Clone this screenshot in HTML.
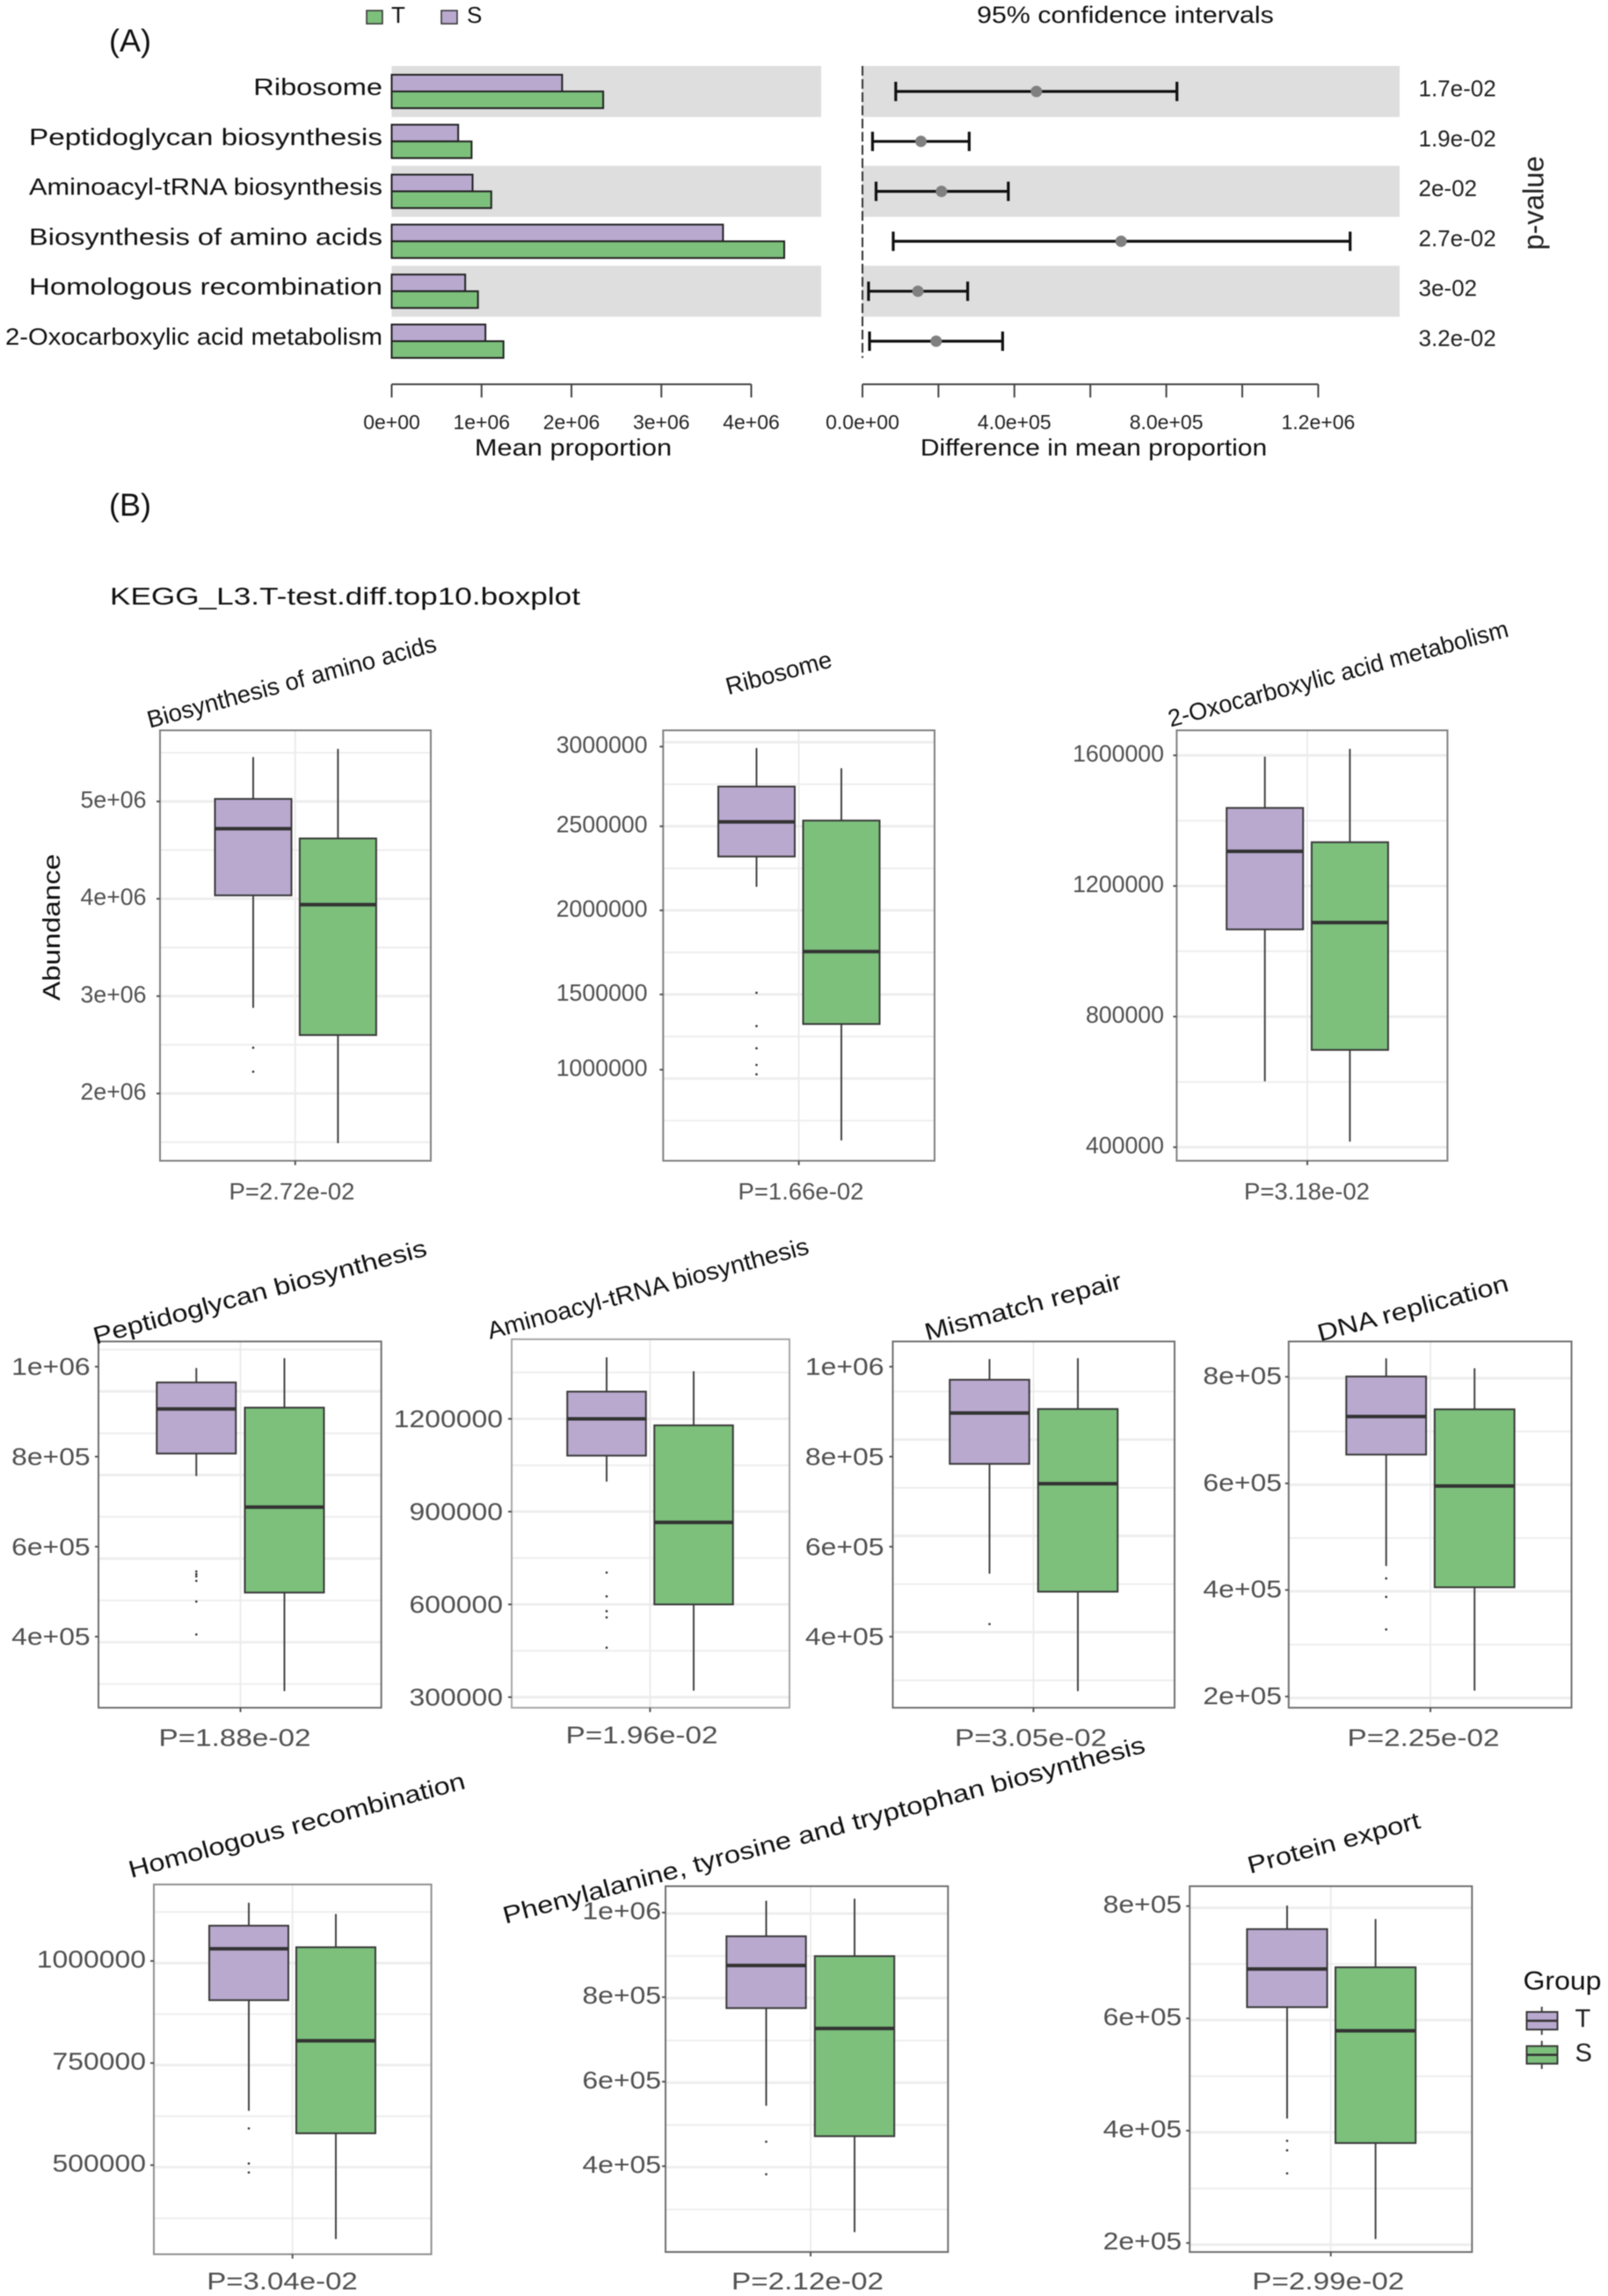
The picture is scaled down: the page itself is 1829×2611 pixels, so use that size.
<!DOCTYPE html>
<html lang="en">
<head>
<meta charset="utf-8">
<title>KEGG L3 T-test differences</title>
<style>
html,body{margin:0;padding:0;background:#fff;}
svg{display:block;font-family:"Liberation Sans",Arial,sans-serif;filter:blur(0.5px);}
</style>
</head>
<body>
<svg id="figure" xmlns="http://www.w3.org/2000/svg" width="1829" height="2611" viewBox="0 0 1829 2611"></svg>
<script>
/* ---------- Panel A data ---------- */
const pathways = ["Ribosome","Peptidoglycan biosynthesis","Aminoacyl-tRNA biosynthesis","Biosynthesis of amino acids","Homologous recombination","2-Oxocarboxylic acid metabolism"];
const meanS = [1896000,740000,900000,3686000,818000,1043000];
const meanT = [2353000,889000,1108000,4367000,960000,1244000];
const ciLow = [87600,26500,35800,81000,16000,18600];
const ciMid = [458000,154000,208000,681000,146000,194000];
const ciHigh = [828000,281000,384000,1284000,277000,369000];
const pValueLabels = ["1.7e-02","1.9e-02","2e-02","2.7e-02","3e-02","3.2e-02"];
const meanTicks = [0,1000000,2000000,3000000,4000000];
const meanTickLabels = ["0e+00","1e+06","2e+06","3e+06","4e+06"];
const diffTicks = [0,200000,400000,600000,800000,1000000,1200000];
const diffTickLabels = ["0.0e+00","","4.0e+05","","8.0e+05","","1.2e+06"];

/* ---------- Panel B data ---------- */
const boxTitles = ["Biosynthesis of amino acids","Ribosome","2-Oxocarboxylic acid metabolism","Peptidoglycan biosynthesis","Aminoacyl-tRNA biosynthesis","Mismatch repair","DNA replication","Homologous recombination","Phenylalanine, tyrosine and tryptophan biosynthesis","Protein export"];
const boxPLabels = ["P=2.72e-02","P=1.66e-02","P=3.18e-02","P=1.88e-02","P=1.96e-02","P=3.05e-02","P=2.25e-02","P=3.04e-02","P=2.12e-02","P=2.99e-02"];
const yTickValues = [
 [5000000,4000000,3000000,2000000],
 [3000000,2500000,2000000,1500000,1000000],
 [1600000,1200000,800000,400000],
 [1000000,800000,600000,400000],
 [1200000,900000,600000,300000],
 [1000000,800000,600000,400000],
 [800000,600000,400000,200000],
 [1000000,750000,500000],
 [1000000,800000,600000,400000],
 [800000,600000,400000,200000]
];
const yTickLabels = [
 ["5e+06","4e+06","3e+06","2e+06"],
 ["3000000","2500000","2000000","1500000","1000000"],
 ["1600000","1200000","800000","400000"],
 ["1e+06","8e+05","6e+05","4e+05"],
 ["1200000","900000","600000","300000"],
 ["1e+06","8e+05","6e+05","4e+05"],
 ["8e+05","6e+05","4e+05","2e+05"],
 ["1000000","750000","500000"],
 ["1e+06","8e+05","6e+05","4e+05"],
 ["8e+05","6e+05","4e+05","2e+05"]
];
/* group T (purple) */
const tWhiskerHigh = [5456000,2965000,1596000,997000,1399000,1017000,834700,1142600,1028000,801000];
const tQ3 = [5026000,2736000,1439000,965000,1288000,971000,800600,1086400,944000,759000];
const tMedian = [4720000,2526000,1306000,906000,1200000,897000,725500,1030000,875000,688000];
const tQ1 = [4035000,2320000,1067000,807000,1081000,784000,654000,904000,774000,620000];
const tWhiskerLow = [2880000,2140000,602000,757000,997000,540000,445000,633000,543000,421600];
const tOutliers = [
 [2470000,2224000],
 [1510000,1312000,1180000,1081000,1025000],
 [],
 [545000,539000,534000,524000,478000,405000],
 [703000,626000,578000,558000,460000],
 [428000],
 [421700,387000,326000],
 [590000,504000,482000],
 [458000,381000],
 [382000,365000,324000]
];
/* group S (green) */
const sWhiskerHigh = [5540000,2845000,1620000,1019000,1354000,1019000,816000,1115000,1033000,777000];
const sQ3 = [4620000,2534000,1334000,909000,1179000,906000,739000,1033600,897000,691000];
const sMedian = [3940000,1755000,1088000,688000,865000,740000,595000,804500,726000,578000];
const sQ1 = [2600000,1324000,698000,498000,600000,500000,405000,578000,471000,378000];
const sWhiskerLow = [1490000,632000,417000,279000,321000,279000,211000,319000,244000,207000];

/* ---------- Layout (geometry only) ---------- */
const categoryLabelWidths = [146.7,402,402,402,402,429];
const panelLayouts = [
 {l:182,r:490,t:830.5,b:1320,v1:5000000,p1:911.4,v2:2000000,p2:1243.5,ct:288,cs:384.4,bw:87,vg:335.8,lab:15.5,dy:-2,gs:5500000,gd:500000,gm:false,fs:26.7,st:1,ps:1.03,px:332,py:1355,tx:331.7,ty:775,tf:27.5,ts:1,frame:"#808080"},
 {l:754.3,r:1063,t:830.5,b:1320,v1:3000000,p1:844,v2:1000000,p2:1226.5,ct:860.5,cs:957,bw:87,vg:908.6,lab:17.8,dy:-2,nudge:{0:5,4:-10},gs:3000000,gd:250000,gm:true,fs:26.7,st:1,ps:1.03,px:911,py:1355,tx:885.7,ty:765,tf:27.5,ts:1,frame:"#808080"},
 {l:1338.4,r:1646.4,t:830.5,b:1320,v1:1600000,p1:859,v2:400000,p2:1304.6,ct:1438.7,cs:1535.4,bw:87,vg:1487,lab:14.4,dy:-2,gs:1600000,gd:200000,gm:true,fs:26.7,st:1,ps:1.03,px:1486.5,py:1355,tx:1522,ty:766,tf:27.5,ts:0.99,frame:"#808080"},
 {l:112,r:433.7,t:1525.5,b:1942,v1:1000000,p1:1554.2,v2:400000,p2:1861.2,ct:223.3,cs:323.5,bw:90,vg:273.5,lab:9.3,dy:0,gs:1038000,gd:92900,gm:false,fs:27.5,st:1.16,ps:1.21,px:267,py:1976,tx:295.5,ty:1469,tf:27.5,ts:1.18,frame:"#707070"},
 {l:582,r:898,t:1523,b:1942,v1:1200000,p1:1613.5,v2:300000,p2:1930,ct:690,cs:789,bw:89.5,vg:739.4,lab:10,dy:0,gs:1350000,gd:150000,gm:false,fs:27.5,st:1.16,ps:1.21,px:730,py:1973,tx:737,ty:1465,tf:27.5,ts:1.05,frame:"#a8a8a8"},
 {l:1015.5,r:1336,t:1525.5,b:1942,v1:1000000,p1:1554.2,v2:400000,p2:1861.2,ct:1125.5,cs:1226,bw:90.5,vg:1175.5,lab:10,dy:0,gs:945000,gd:107000,gm:false,fs:27.5,st:1.16,ps:1.21,px:1172.5,py:1976,tx:1163.7,ty:1485.5,tf:27.5,ts:1.18,frame:"#707070"},
 {l:1465.8,r:1787.5,t:1525.5,b:1942,v1:800000,p1:1565.7,v2:200000,p2:1929.3,ct:1576.7,cs:1677.2,bw:90.8,vg:1627,lab:7.8,dy:-1,gs:797500,gd:100000,gm:true,fs:27.5,st:1.16,ps:1.21,px:1619,py:1976,tx:1607,ty:1487.5,tf:27.5,ts:1.18,frame:"#707070"},
 {l:175,r:490.6,t:2143,b:2563.5,v1:1000000,p1:2230,v2:500000,p2:2462.2,ct:283,cs:382,bw:90,vg:332.7,lab:9,dy:-2,gs:1120000,gd:125000,gm:false,fs:27.5,st:1.16,ps:1.2,px:321,py:2594,tx:337.5,ty:2075.5,tf:27.5,ts:1.18,frame:"#909090"},
 {l:757,r:1078.3,t:2145,b:2561,v1:1000000,p1:2175,v2:400000,p2:2463.4,ct:871.5,cs:972,bw:90.4,vg:922,lab:5,dy:-2,gs:997600,gd:100000,gm:true,fs:27.5,st:1.16,ps:1.21,px:918.5,py:2594,tx:937,ty:2081,tf:27.5,ts:1.19,frame:"#707070"},
 {l:1353.2,r:1674.3,t:2145,b:2561,v1:800000,p1:2167.6,v2:200000,p2:2550.7,ct:1464,cs:1564.6,bw:91.2,vg:1513.7,lab:9,dy:-2,gs:797000,gd:100000,gm:true,fs:27.5,st:1.16,ps:1.21,px:1510.8,py:2594,tx:1517,ty:2095.5,tf:27.5,ts:1.18,frame:"#707070"}
];

const PURPLE = "#b9a9cf", GREEN = "#7cc07c", BAND = "#dedede", TICKTXT = "#505050";
const svg = document.getElementById("figure");
const NS = "http://www.w3.org/2000/svg";

function mk(tag, attrs, name, parent) {
  const el = document.createElementNS(NS, tag);
  for (const k in attrs) el.setAttribute(k, attrs[k]);
  
  
  (parent || svg).appendChild(el);
  return el;
}
function line(x1, y1, x2, y2, stroke, w, name, parent, extra) {
  return mk("line", Object.assign({x1:x1, y1:y1, x2:x2, y2:y2, stroke:stroke, "stroke-width":w}, extra || {}), name, parent);
}
function rect(x, y, w, h, fill, stroke, sw, name, parent) {
  return mk("rect", {x:x, y:y, width:w, height:h, fill:fill, stroke:stroke, "stroke-width":sw}, name, parent);
}
function txt(x, y, s, size, o, name, parent) {
  o = o || {};
  const a = {x:x, y:y, "font-size":size, fill:o.fill || "#111", "text-anchor":o.anchor || "start", "dominant-baseline":"central"};
  if (o.rotate !== undefined) a.transform = "rotate(" + o.rotate + " " + x + " " + y + ")";
  const el = mk("text", a, name, parent);
  el.textContent = s;
  if (o.stretch && o.stretch !== 1) {
    const len = el.getComputedTextLength();
    el.setAttribute("textLength", len * o.stretch);
    el.setAttribute("lengthAdjust", "spacingAndGlyphs");
  }
  if (o.length) {
    el.setAttribute("textLength", o.length);
    el.setAttribute("lengthAdjust", "spacingAndGlyphs");
  }
  return el;
}

/* ---------- Panel A ---------- */
const xMean = v => 445.5 + v * (409 / 4000000);
const xDiff = v => 981 + v * (518.4 / 1200000);
const rowY = i => 104 + i * 56.8;
const slug = s => s.toLowerCase().replace(/[^a-z0-9]+/g, "-");

const panelA = mk("g", {}, "panel-a");
txt(124, 46, "(A)", 36, {fill:"#111"}, "panel-a-label", panelA);

rect(417, 12, 18, 15, GREEN, "#333", 1.5, "legend-swatch-t", panelA);
txt(445, 17, "T", 26, {}, "legend-label-t", panelA);
rect(502, 12, 18, 15, PURPLE, "#333", 1.5, "legend-swatch-s", panelA);
txt(531, 17, "S", 26, {}, "legend-label-s", panelA);
txt(1280, 17, "95% confidence intervals", 27, {anchor:"middle", stretch:1.125}, "ci-title", panelA);

pathways.forEach((name, i) => {
  const yc = rowY(i), id = slug(name);
  if (i % 2 === 0) {
    rect(445.5, yc - 29, 488.5, 58, BAND, "none", 0, "row-band-left-" + id, panelA);
    rect(980.5, yc - 29, 611.5, 58, BAND, "none", 0, "row-band-right-" + id, panelA);
  }
});
line(981, 75, 981, 407, "#333", 2, "zero-reference-line", panelA, {"stroke-dasharray":"11,4"});

pathways.forEach((name, i) => {
  const yc = rowY(i), id = slug(name);
  txt(435, yc - 5, name, 27, {anchor:"end", length:categoryLabelWidths[i]}, "category-label-" + id, panelA);
  rect(xMean(0), yc - 19, xMean(meanS[i]) - xMean(0), 19, PURPLE, "#222", 2, "bar-s-" + id, panelA);
  rect(xMean(0), yc, xMean(meanT[i]) - xMean(0), 19, GREEN, "#222", 2, "bar-t-" + id, panelA);
  line(xDiff(ciLow[i]), yc, xDiff(ciHigh[i]), yc, "#111", 3.2, "ci-line-" + id, panelA);
  line(xDiff(ciLow[i]), yc - 11, xDiff(ciLow[i]), yc + 11, "#111", 3.2, "ci-cap-low-" + id, panelA);
  line(xDiff(ciHigh[i]), yc - 11, xDiff(ciHigh[i]), yc + 11, "#111", 3.2, "ci-cap-high-" + id, panelA);
  mk("circle", {cx:xDiff(ciMid[i]), cy:yc, r:6.5, fill:"#808080"}, "ci-point-" + id, panelA);
  txt(1613.5, yc - 3.5, pValueLabels[i], 26, {fill:"#222"}, "p-value-" + id, panelA);
});

line(xMean(meanTicks[0]), 437, xMean(meanTicks[meanTicks.length - 1]), 437, "#444", 2, "mean-axis-line", panelA);
meanTicks.forEach((v, i) => {
  line(xMean(v), 437, xMean(v), 452, "#444", 2, "mean-axis-tick", panelA);
  txt(xMean(v), 480, meanTickLabels[i], 23, {anchor:"middle", fill:"#222"}, "mean-axis-tick-label", panelA);
});
txt(652, 509, "Mean proportion", 27, {anchor:"middle", stretch:1.14}, "mean-axis-title", panelA);

line(xDiff(diffTicks[0]), 437, xDiff(diffTicks[diffTicks.length - 1]), 437, "#444", 2, "difference-axis-line", panelA);
diffTicks.forEach((v, i) => {
  line(xDiff(v), 437, xDiff(v), 452, "#444", 2, "difference-axis-tick", panelA);
  if (diffTickLabels[i]) txt(xDiff(v), 480, diffTickLabels[i], 23, {anchor:"middle", fill:"#222"}, "difference-axis-tick-label", panelA);
});
txt(1244, 509, "Difference in mean proportion", 27, {anchor:"middle", stretch:1.11}, "difference-axis-title", panelA);
txt(1744, 231, "p-value", 33, {anchor:"middle", rotate:-90, fill:"#222", length:107}, "p-value-axis-title", panelA);

/* ---------- Panel B ---------- */
const panelB = mk("g", {}, "panel-b");
txt(124, 574, "(B)", 36, {}, "panel-b-label", panelB);
txt(125, 678, "KEGG_L3.T-test.diff.top10.boxplot", 28, {length:535}, "boxplot-figure-title", panelB);
txt(58.5, 1054.5, "Abundance", 28, {anchor:"middle", rotate:-90, length:167}, "y-axis-title", panelB);

function drawBox(g, yScale, cx, bw, hi, q3, med, q1, lo, fill, id) {
  line(cx, yScale(hi), cx, yScale(q3), "#444", 2, "whisker-high-" + id, g);
  line(cx, yScale(q1), cx, yScale(lo), "#444", 2, "whisker-low-" + id, g);
  rect(cx - bw / 2, yScale(q3), bw, yScale(q1) - yScale(q3), fill, "#3a3a3a", 2, "box-" + id, g);
  line(cx - bw / 2, yScale(med), cx + bw / 2, yScale(med), "#333", 4, "median-" + id, g);
}

boxTitles.forEach((title, i) => {
  const L = panelLayouts[i], id = slug(title);
  const g = mk("g", {}, "boxplot-" + id, panelB);
  const yScale = v => L.p1 + (v - L.v1) * (L.p2 - L.p1) / (L.v2 - L.v1);

  let major = L.gm;
  for (let v = L.gs; yScale(v) < L.b; v -= L.gd) {
    const y = yScale(v);
    if (y > L.t) line(L.l, y, L.r, y, "#eeeeee", major ? 3 : 2, major ? "grid-major" : "grid-minor", g);
    major = !major;
  }
  line(L.vg, L.t, L.vg, L.b, "#ececec", 2, "grid-vertical", g);

  drawBox(g, yScale, L.ct, L.bw, tWhiskerHigh[i], tQ3[i], tMedian[i], tQ1[i], tWhiskerLow[i], PURPLE, "t-" + id);
  drawBox(g, yScale, L.cs, L.bw, sWhiskerHigh[i], sQ3[i], sMedian[i], sQ1[i], sWhiskerLow[i], GREEN, "s-" + id);
  tOutliers[i].forEach(v => {
    mk("circle", {cx:L.ct, cy:yScale(v), r:1.3, fill:"#333"}, "outlier-t-" + id, g);
  });

  rect(L.l, L.t, L.r - L.l, L.b - L.t, "none", L.frame, 2, "plot-frame", g);
  yTickValues[i].forEach((v, k) => {
    const nudge = (L.nudge && L.nudge[k]) || 0;
    const y = yScale(v) + nudge;
    line(L.l - 4, y, L.l, y, "#555", 2, "y-tick", g);
    txt(L.l - L.lab, y + L.dy, yTickLabels[i][k], L.fs, {anchor:"end", fill:TICKTXT, stretch:L.st}, "y-tick-label", g);
  });
  line(L.vg, L.b, L.vg, L.b + 5, "#555", 2, "x-tick", g);
  txt(L.px, L.py, boxPLabels[i], L.fs, {anchor:"middle", fill:TICKTXT, stretch:L.ps}, "p-value-label", g);
  txt(L.tx, L.ty, title, L.tf, {anchor:"middle", rotate:-15, stretch:L.ts}, "boxplot-title", g);
});

/* ---------- Group legend ---------- */
const groupLegend = mk("g", {}, "group-legend", panelB);
txt(1732.5, 2253, "Group", 30, {length:89}, "group-legend-title", groupLegend);
const legendGroups = ["T","S"];
const legendFills = [PURPLE, GREEN];
legendGroups.forEach((label, i) => {
  const cy = 2298 + i * 38.8;
  line(1753.7, cy - 16, 1753.7, cy + 16, "#444", 2, "legend-key-whisker-" + label.toLowerCase(), groupLegend);
  rect(1736.5, cy - 10, 35, 20, legendFills[i], "#3a3a3a", 2, "legend-key-box-" + label.toLowerCase(), groupLegend);
  line(1736.5, cy, 1771.5, cy, "#333", 2.5, "legend-key-median-" + label.toLowerCase(), groupLegend);
  txt(1791.5, cy - 2, label, 29, {fill:"#222"}, "legend-key-label-" + label.toLowerCase(), groupLegend);
});
</script>
</body>
</html>
